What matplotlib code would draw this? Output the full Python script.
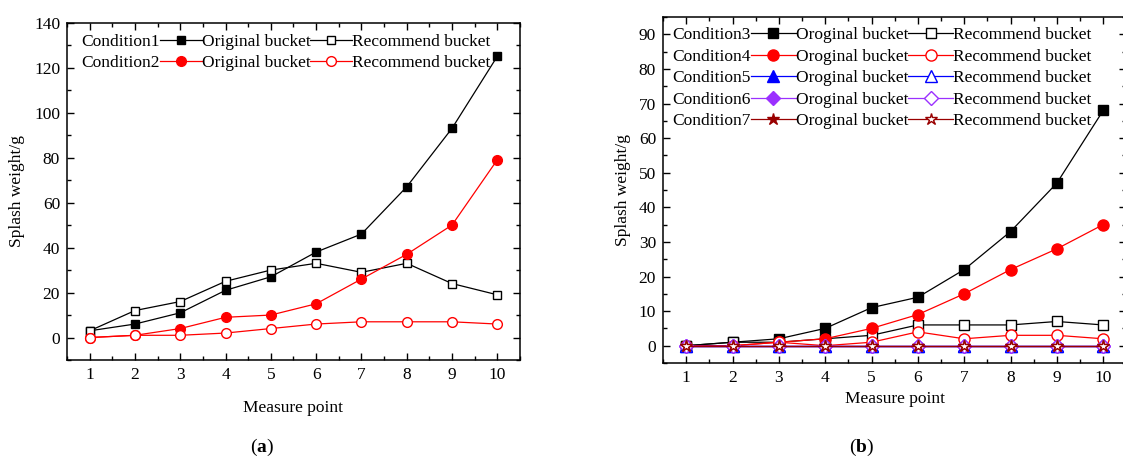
import matplotlib
matplotlib.use("Agg")
import matplotlib.pyplot as plt
from matplotlib.lines import Line2D
from matplotlib.ticker import MultipleLocator

plt.rcParams['font.family'] = ['Liberation Serif', 'DejaVu Serif']
plt.rcParams['mathtext.fontset'] = 'custom'
plt.rcParams['mathtext.bf'] = 'Liberation Serif:bold'
plt.rcParams['mathtext.rm'] = 'Liberation Serif'
plt.rcParams['font.size'] = 12.5

# Data
points = [1, 2, 3, 4, 5, 6, 7, 8, 9, 10]

# panel (a)
c1_orig = [3, 6, 11, 21, 27, 38, 46, 67, 93, 125]
c1_rec = [3, 12, 16, 25, 30, 33, 29, 33, 24, 19]
c2_orig = [0, 1, 4, 9, 10, 15, 26, 37, 50, 79]
c2_rec = [0, 1, 1, 2, 4, 6, 7, 7, 7, 6]

# panel (b)
c3_orig = [0, 1, 2, 5, 11, 14, 22, 33, 47, 68]
c3_rec = [0, 1, 1, 2, 3, 6, 6, 6, 7, 6]
c4_orig = [0, 0, 1, 2, 5, 9, 15, 22, 28, 35]
c4_rec = [0, 0, 1, 0, 1, 4, 2, 3, 3, 2]
c5_orig = [0, 0, 0, 0, 0, 0, 0, 0, 0, 0]
c5_rec = [0, 0, 0, 0, 0, 0, 0, 0, 0, 0]
c6_orig = [0, 0, 0, 0, 0, 0, 0, 0, 0, 0]
c6_rec = [0, 0, 0, 0, 0, 0, 0, 0, 0, 0]
c7_orig = [0, 0, 0, 0, 0, 0, 0, 0, 0, 0]
c7_rec = [0, 0, 0, 0, 0, 0, 0, 0, 0, 0]

fig = plt.figure(figsize=(11.23, 4.61), dpi=100)
axA = fig.add_axes([0.0597, 0.219, 0.4033, 0.732])
axB = fig.add_axes([0.5904, 0.2126, 0.4126, 0.7504])


def style_axes(ax):
    for s in ax.spines.values():
        s.set_linewidth(1.1)
    ax.tick_params(which='both', direction='in', top=True, right=True, width=1.0)
    ax.tick_params(which='major', length=5, pad=5)
    ax.tick_params(which='minor', length=3)
    ax.set_xticks(points)
    ax.xaxis.set_minor_locator(MultipleLocator(0.5))
    ax.set_xlim(0.5, 10.5)
    ax.set_xlabel("Measure point")
    ax.set_ylabel("Splash weight/g")


def series(ax, y, color, marker, filled, ms):
    ax.plot(points, y, color=color, lw=0.9, marker=marker, ms=ms,
            markerfacecolor=color if filled else 'white',
            markeredgecolor=color, markeredgewidth=1.0)
    return Line2D([], [], color=color, lw=0.9, marker=marker, ms=ms,
                  markerfacecolor=color if filled else 'white',
                  markeredgecolor=color, markeredgewidth=1.0)


# ---- panel (a)
hA = []
hA.append(series(axA, c1_orig, 'black', 's', True, 6))
hA.append(series(axA, c1_rec, 'black', 's', False, 6))
hA.append(series(axA, c2_orig, 'red', 'o', True, 7))
hA.append(series(axA, c2_rec, 'red', 'o', False, 7))
style_axes(axA)
axA.set_ylim(-10, 140)
axA.set_yticks(range(0, 141, 20))
axA.yaxis.set_minor_locator(MultipleLocator(10))
axA.yaxis.set_label_coords(-0.092, 0.5)
axA.xaxis.labelpad = 12

blank = Line2D([], [], linestyle='none')
axA.legend([hA[0], hA[2], hA[1], hA[3], blank, blank],
           ["Condition1", "Condition2", "Original bucket", "Original bucket",
            "Recommend bucket", "Recommend bucket"],
           ncol=3, markerfirst=False, loc='upper left',
           bbox_to_anchor=(0.024, 0.978), frameon=False,
           handlelength=2.4, handletextpad=0.0, columnspacing=0.0,
           labelspacing=0.3, borderaxespad=0.0, borderpad=0.2)

# ---- panel (b)
hB = []
specs = [(c3_orig, c3_rec, 'black', 's', 7),
         (c4_orig, c4_rec, 'red', 'o', 8),
         (c5_orig, c5_rec, 'blue', '^', 8),
         (c6_orig, c6_rec, '#9b30ff', 'D', 7),
         (c7_orig, c7_rec, '#990000', '*', 9)]
for yo, yr, col, mk, ms in specs:
    ho = series(axB, yo, col, mk, True, ms)
    hr = series(axB, yr, col, mk, False, ms)
    hB.append((ho, hr))
style_axes(axB)
axB.set_ylim(-5, 95)
axB.set_yticks(range(0, 91, 10))
axB.yaxis.set_minor_locator(MultipleLocator(5))
axB.yaxis.set_label_coords(-0.069, 0.5)

cond_labels = ["Condition3", "Condition4", "Condition5", "Condition6", "Condition7"]
handles = [h[0] for h in hB] + [h[1] for h in hB] + [blank] * 5
labels = cond_labels + ["Oroginal bucket"] * 5 + ["Recommend bucket"] * 5
axB.legend(handles, labels, ncol=3, markerfirst=False, loc='upper left',
           bbox_to_anchor=(0.012, 0.981), frameon=False,
           handlelength=2.6, handletextpad=0.0, columnspacing=0.0,
           labelspacing=0.31, borderaxespad=0.0, borderpad=0.2)

fig.text(0.233, 0.03, r"($\mathbf{a}$)", ha='center', va='center', fontsize=14)
fig.text(0.767, 0.03, r"($\mathbf{b}$)", ha='center', va='center', fontsize=14)

fig.savefig("out.png", dpi=100)
